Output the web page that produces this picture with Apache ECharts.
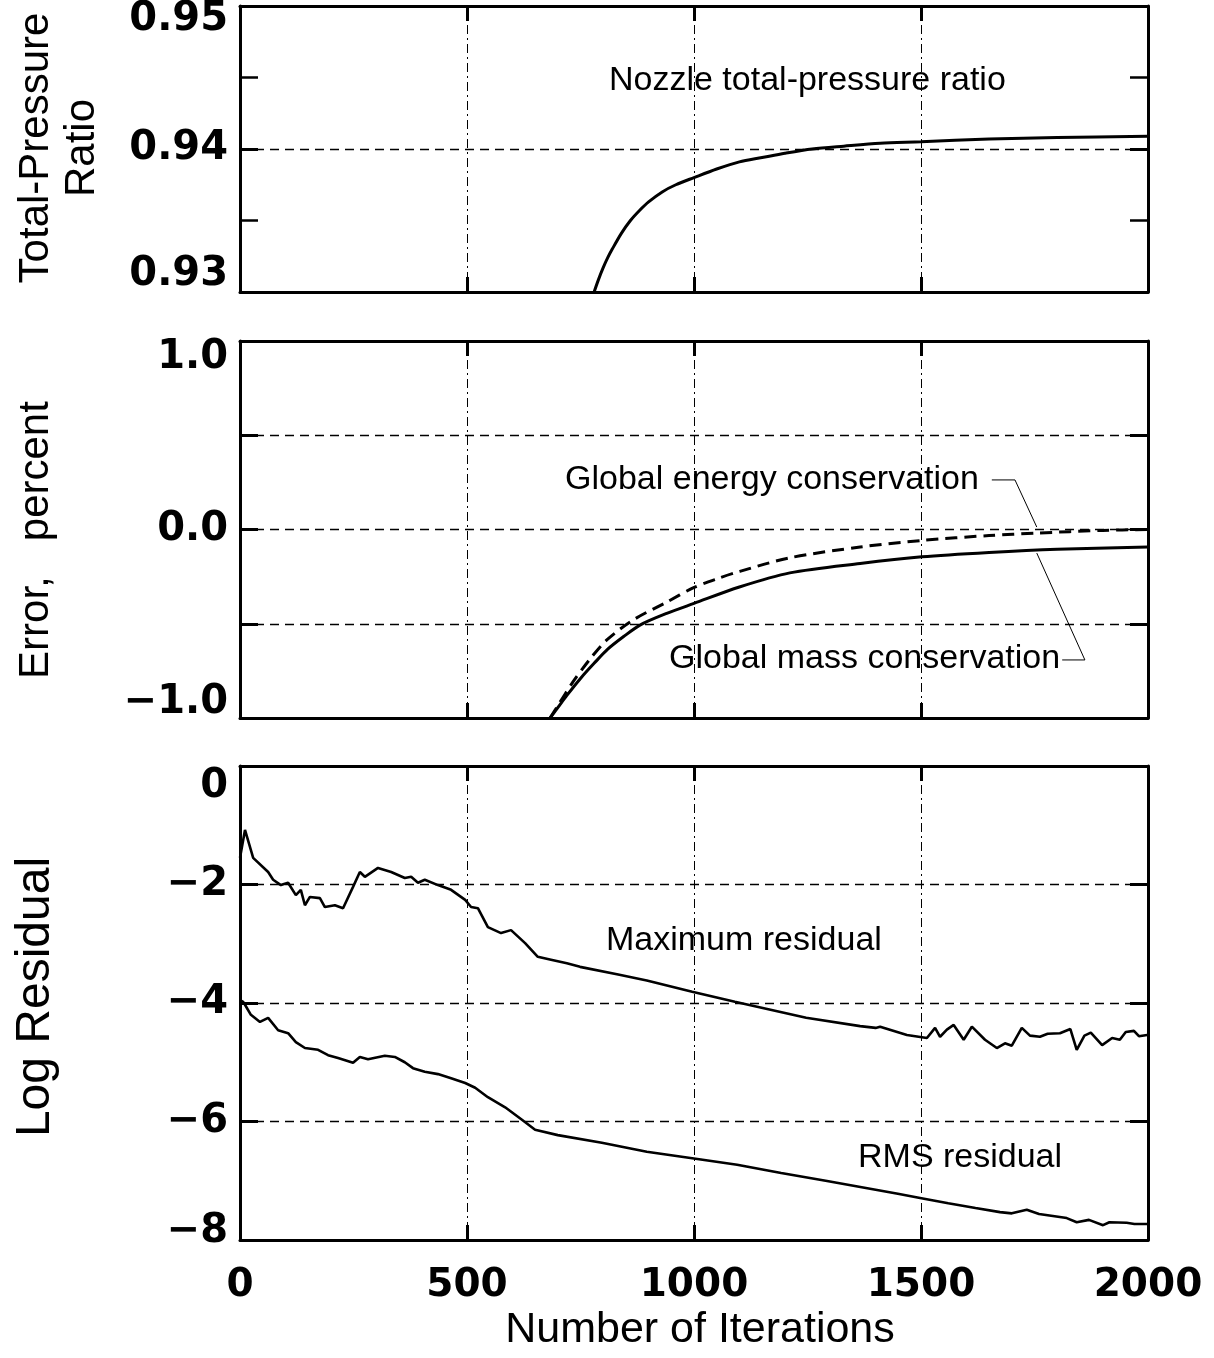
<!DOCTYPE html>
<html>
<head>
<meta charset="utf-8">
<script src="https://cdn.jsdelivr.net/npm/echarts@6/dist/echarts.min.js"></script>
<style>
html,body{margin:0;padding:0;background:#fff;}
#chart{width:1214px;height:1358px;}
</style>
</head>
<body>
<div id="chart"></div>
<script>
// ---------- data ----------
var xTicks = [0, 500, 1000, 1500, 2000];

// Top panel: nozzle total-pressure ratio
var tprIter = [780, 790, 800, 810, 820, 840, 860, 880, 900, 930, 960, 1000, 1050, 1100, 1150, 1200, 1260, 1330, 1410, 1500, 1650, 1800, 2000];
var tprVal  = [0.9300, 0.9309, 0.9317, 0.9324, 0.9330, 0.9341, 0.9350, 0.9357, 0.9363, 0.9370, 0.9375, 0.9380, 0.9386, 0.9391, 0.9394, 0.9397, 0.9400, 0.9402, 0.9404, 0.9405, 0.9407, 0.9408, 0.9409];

// Middle panel: conservation errors (percent)
var massIter = [683, 700, 720, 750, 780, 810, 845, 881, 940, 1000, 1100, 1211, 1366, 1502, 1650, 1800, 2000];
var massVal  = [-1.0, -0.945, -0.88, -0.79, -0.71, -0.635, -0.568, -0.507, -0.445, -0.392, -0.305, -0.230, -0.180, -0.145, -0.122, -0.105, -0.093];
var energyIter = [683, 700, 733, 770, 808, 866, 940, 998, 1050, 1101, 1211, 1366, 1502, 1650, 1755, 1900, 2000];
var energyVal  = [-1.0, -0.935, -0.81, -0.69, -0.586, -0.480, -0.385, -0.310, -0.262, -0.222, -0.150, -0.093, -0.058, -0.032, -0.019, -0.005, 0.0];

// leader lines of the middle-panel labels
var energyLeaderIter = [1656, 1707, 1755];
var energyLeaderVal  = [0.263, 0.263, 0.013];
var massLeaderIter = [1811, 1861, 1755];
var massLeaderVal  = [-0.692, -0.692, -0.125];

// Bottom panel: log residuals
var maxIter = [0, 11, 29, 62, 73, 90, 106, 123, 134, 143, 154, 176, 187, 209, 227, 249, 264, 275, 304, 333, 363, 377, 392, 407, 436, 465, 496, 509, 524, 546, 575, 597, 628, 656, 685, 720, 749, 833, 896, 996, 1090, 1247, 1366, 1400, 1410, 1469, 1513,
  1531, 1542, 1557, 1572, 1594, 1612, 1641, 1667, 1685, 1700, 1722, 1740, 1762, 1779, 1806, 1829, 1843, 1860, 1874, 1899, 1921, 1938, 1951, 1969, 1980, 1998];
var maxVal = [-1.55, -1.08, -1.55, -1.79, -1.92, -2.01, -1.97, -2.18, -2.09, -2.35, -2.21, -2.23, -2.38, -2.35, -2.40, -2.04, -1.79, -1.87, -1.72, -1.79, -1.89, -1.87, -1.97, -1.92, -2.01, -2.09, -2.26, -2.38, -2.40, -2.72, -2.82, -2.77, -2.99, -3.22, -3.27, -3.33, -3.39, -3.52, -3.62, -3.81, -3.98, -4.25, -4.39, -4.42, -4.40, -4.54, -4.59,
  -4.42, -4.57, -4.45, -4.37, -4.62, -4.40, -4.62, -4.76, -4.68, -4.72, -4.42, -4.55, -4.57, -4.52, -4.51, -4.44, -4.79, -4.55, -4.50, -4.71, -4.59, -4.62, -4.49, -4.47, -4.56, -4.54];
var rmsIter = [0, 7, 11, 24, 44, 62, 84, 106, 123, 143, 172, 194, 216, 249, 264, 282, 319, 341, 363, 381, 407, 436, 465, 496, 518, 546, 584, 621, 650, 700, 797, 896, 996, 1095, 1192, 1290, 1449, 1498, 1560, 1620, 1674, 1700, 1733, 1760, 1821, 1843, 1870, 1901, 1915, 1953, 1970, 1998];
var rmsVal  = [-3.95, -3.98, -4.03, -4.20, -4.32, -4.25, -4.46, -4.51, -4.66, -4.76, -4.79, -4.88, -4.93, -5.01, -4.91, -4.95, -4.89, -4.91, -5.00, -5.10, -5.16, -5.20, -5.27, -5.35, -5.43, -5.59, -5.76, -5.97, -6.14, -6.23, -6.36, -6.51, -6.62, -6.73, -6.87, -7.00, -7.22, -7.29, -7.38, -7.46, -7.53, -7.55, -7.49, -7.56, -7.63, -7.70, -7.66, -7.75, -7.70, -7.71, -7.73, -7.73];

function zip(a, b) { return a.map(function (v, i) { return [v, b[i]]; }); }

// ---------- styling ----------
var TICKFONT = 'DejaVu Sans';
var TEXTFONT = 'Liberation Sans';
var grids = [
  {left: 240, right: 66, top: 6, height: 286, outerBoundsMode: 'none', containLabel: false},
  {left: 240, right: 66, top: 341, height: 377, outerBoundsMode: 'none', containLabel: false},
  {left: 240, right: 66, top: 766, height: 474, outerBoundsMode: 'none', containLabel: false}
];

function richFor(fs) {
  var base = {fontSize: fs, fontFamily: TICKFONT, fontWeight: 'bold', color: '#000'};
  function p(arr) { return Object.assign({padding: arr}, base); }
  return {
    dn14: p([28, 0, 0, 0]), up17: p([0, 0, 34, 0]),
    dn17: p([34, 0, 0, 0]), up15: p([0, 0, 30, 0]),
    dn21: p([42, 0, 0, 0]), up8: p([0, 0, 16, 0])
  };
}

var hGrid = {show: true, lineStyle: {color: '#000', width: 1.3, type: [9, 6]}};
var vGrid = {show: true, lineStyle: {color: '#000', width: 1, type: [9, 4, 2, 4]}};

function xAxisPrimary(i) {
  return {
    type: 'value', gridIndex: i, min: 0, max: 2000, interval: 500, position: 'bottom',
    axisLine: {show: true, onZero: false, lineStyle: {color: '#000', width: 3}},
    axisTick: {show: true, inside: true, length: 15, lineStyle: {color: '#000', width: 3}},
    axisLabel: i === 2 ? {show: true, margin: 26, fontSize: 39, fontFamily: TICKFONT, fontWeight: 'bold', color: '#000',
      formatter: function (v) { return String(v); }} : {show: false},
    splitLine: vGrid
  };
}
function xAxisTop(i) {
  return {
    type: 'value', gridIndex: i, min: 0, max: 2000, interval: 500, position: 'top',
    axisLine: {show: true, onZero: false, lineStyle: {color: '#000', width: 3}},
    axisTick: {show: true, inside: true, length: 15, lineStyle: {color: '#000', width: 3}},
    axisLabel: {show: false}, splitLine: {show: false}
  };
}
var yDefs = [
  {min: 0.93, max: 0.95, interval: 0.01, minor: true,
   fmt: function (v) { var s = v.toFixed(2); if (Math.abs(v - 0.95) < 1e-6) return '{dn14|' + s + '}'; if (Math.abs(v - 0.93) < 1e-6) return '{up17|' + s + '}'; return s; }},
  {min: -1, max: 1, interval: 0.5, minor: false,
   fmt: function (v) { if (Math.abs(v - Math.round(v)) > 1e-6) return ''; var s = (v < 0 ? '\u2212' : '') + Math.abs(v).toFixed(1); if (v > 0.5) return '{dn17|' + s + '}'; if (v < -0.5) return '{up15|' + s + '}'; return s; }},
  {min: -8, max: 0, interval: 2, minor: false,
   fmt: function (v) { var s = (v < 0 ? '\u2212' : '') + Math.abs(v); if (v > -0.5) return '{dn21|' + s + '}'; if (v < -7.5) return '{up8|' + s + '}'; return s; }}
];
function yAxisPrimary(i) {
  var d = yDefs[i];
  return {
    type: 'value', gridIndex: i, min: d.min, max: d.max, interval: d.interval, position: 'left',
    axisLine: {show: true, onZero: false, lineStyle: {color: '#000', width: 3}},
    axisTick: {show: true, inside: true, length: 18, lineStyle: {color: '#000', width: 3}},
    minorTick: {show: d.minor, splitNumber: 2, length: 18, lineStyle: {color: '#000', width: 2.5}},
    axisLabel: {show: true, margin: 12, fontSize: 40, fontFamily: TICKFONT, fontWeight: 'bold', color: '#000', formatter: d.fmt, rich: richFor(40)},
    splitLine: hGrid
  };
}
function yAxisRight(i) {
  var d = yDefs[i];
  return {
    type: 'value', gridIndex: i, min: d.min, max: d.max, interval: d.interval, position: 'right',
    axisLine: {show: true, onZero: false, lineStyle: {color: '#000', width: 3}},
    axisTick: {show: true, inside: true, length: 18, lineStyle: {color: '#000', width: 3}},
    minorTick: {show: d.minor, splitNumber: 2, length: 18, lineStyle: {color: '#000', width: 2.5}},
    axisLabel: {show: false}, splitLine: {show: false}
  };
}

function lineSeries(xi, yi, data, opts) {
  var s = {
    type: 'line', xAxisIndex: xi, yAxisIndex: yi, data: data, showSymbol: false, symbol: 'none',
    lineStyle: {color: '#000', width: 3, type: 'solid'}, smooth: false, silent: true, z: 5
  };
  for (var k in opts) s[k] = opts[k];
  return s;
}

var chart = echarts.init(document.getElementById('chart'), null, {renderer: 'canvas'});
var annStyle = {fontSize: 34, fontFamily: TEXTFONT, fill: '#000'};
function ann(text, x, y) {
  return {type: 'text', left: x, top: y, style: Object.assign({text: text}, annStyle), z: 10};
}
function title(text, cx, cy, fs, rot) {
  return {type: 'text', x: cx, y: cy, rotation: rot ? Math.PI / 2 : 0, z: 10,
    style: {text: text, fontSize: fs, fontFamily: TEXTFONT, fill: '#000', align: 'center', verticalAlign: 'middle', lineHeight: 46}};
}

chart.setOption({
  animation: false,
  backgroundColor: '#fff',
  grid: grids,
  xAxis: [xAxisPrimary(0), xAxisPrimary(1), xAxisPrimary(2), xAxisTop(0), xAxisTop(1), xAxisTop(2)],
  yAxis: [yAxisPrimary(0), yAxisPrimary(1), yAxisPrimary(2), yAxisRight(0), yAxisRight(1), yAxisRight(2)],
  series: [
    lineSeries(0, 0, zip(tprIter, tprVal), {smooth: 0.3}),
    lineSeries(1, 1, zip(massIter, massVal), {smooth: 0.3}),
    lineSeries(1, 1, zip(energyIter, energyVal), {smooth: 0.3, lineStyle: {color: '#000', width: 3, type: [12, 7]}}),
    lineSeries(1, 1, zip(energyLeaderIter, energyLeaderVal), {lineStyle: {color: '#000', width: 1}}),
    lineSeries(1, 1, zip(massLeaderIter, massLeaderVal), {lineStyle: {color: '#000', width: 1}}),
    lineSeries(2, 2, zip(maxIter, maxVal), {lineStyle: {color: '#000', width: 2.6}}),
    lineSeries(2, 2, zip(rmsIter, rmsVal), {lineStyle: {color: '#000', width: 2.6}})
  ],
  graphic: [
    ann('Nozzle total-pressure ratio', 609, 64),
    ann('Global energy conservation', 565, 463),
    ann('Global mass conservation', 669, 642),
    ann('Maximum residual', 606, 924),
    ann('RMS residual', 858, 1141),
    title('Total-Pressure\nRatio', 59, 148, 42, true),
    title('Error,   percent', 36, 540, 42, true),
    title('Log Residual', 36, 997, 48, true),
    title('Number of Iterations', 700, 1330, 43, false)
  ]
});
</script>
</body>
</html>
